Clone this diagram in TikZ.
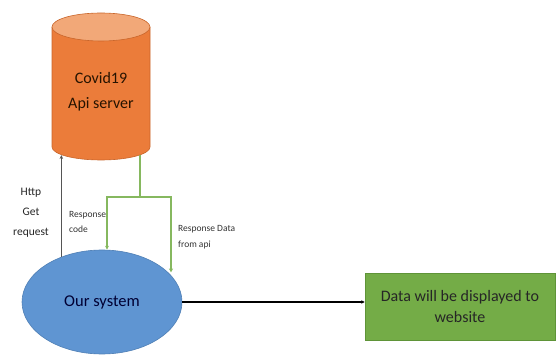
\documentclass[tikz,border=0pt]{standalone}
\usepackage{fontspec}
\setmainfont{Carlito}
\usetikzlibrary{arrows.meta,shapes.geometric}
\definecolor{orangeB}{HTML}{EB7C3A}
\definecolor{orangeT}{HTML}{F2A878}
\definecolor{orangeL}{HTML}{C9652A}
\definecolor{blueF}{HTML}{5F95D2}
\definecolor{blueL}{HTML}{4F7FB5}
\definecolor{greenF}{HTML}{74AC47}
\definecolor{greenL}{HTML}{5F9438}
\definecolor{greenA}{HTML}{86B85F}
\definecolor{grayA}{HTML}{555555}
\tikzset{
  lbl/.style={font=\fontsize{11.5}{20}\selectfont, text=black!85, align=center},
  smalllbl/.style={font=\fontsize{9.5}{15.5}\selectfont, text=black!80, align=left, inner sep=0pt},
  garrow/.style={draw=greenA, line width=1.1pt, -{Stealth[length=4pt,width=4pt]}},
  harrow/.style={draw=grayA, line width=0.8pt, -{Stealth[length=4pt,width=3.5pt]}},
  barrow/.style={draw=black, line width=1.2pt, -{Stealth[length=3.5pt,width=3.5pt]}},
}
\begin{document}
\begin{tikzpicture}[x=1pt,y=1pt]
\useasboundingbox (0,0) rectangle (557,356);
% cylinder (server)
\fill[orangeB] (52,329) -- (52,209) arc[start angle=180,end angle=360,x radius=49,y radius=13] -- (150,329) -- cycle;
\draw[orangeL, line width=0.6pt] (52,329) -- (52,209) arc[start angle=180,end angle=360,x radius=49,y radius=13] -- (150,329);
\filldraw[fill=orangeT, draw=orangeL, line width=0.6pt] (101,329) ellipse[x radius=49, y radius=14];
\node[font=\fontsize{16}{25}\selectfont, text=black!85!orange, align=center] (srv) at (101,264) {Covid19\\Api server};
\coordinate (srvL) at (62,201);
\coordinate (srvR) at (140,201);
% our system
\node[ellipse, draw=blueL, line width=0.6pt, fill=blueF, minimum width=160pt, minimum height=104pt, inner sep=0pt,
  font=\fontsize{16.5}{18}\selectfont, text=black!80!blue] (sys) at (102,54) {Our system};
% website box
\node[rectangle, draw=greenL, line width=0.6pt, fill=greenF, minimum width=190pt, minimum height=67pt, inner sep=2pt,
  align=center, font=\fontsize{16}{21.5}\selectfont, text=black!85] (web) at (460,49.5) {Data will be displayed to\\website};
% connectors
\coordinate (jl) at (107,159);
\coordinate (jr) at (171,159);
\draw[harrow] (sys.132) -- (sys.132 |- srvL);
\draw[garrow] (srvR) |- (jl) -- (jl |- sys.north);
\draw[garrow] (srvR) |- (jr) -- (jr |- sys.24);
\draw[barrow] (sys.east) -- (sys.east -| web.west);
% labels
\node[lbl] (http) at (31,143) {Http\\Get\\request};
\node[smalllbl, anchor=west] (rc) at (69,134) {Response\\code};
\node[smalllbl, anchor=west] (rd) at (178,119) {Response Data\\from api};
\end{tikzpicture}
\end{document}
